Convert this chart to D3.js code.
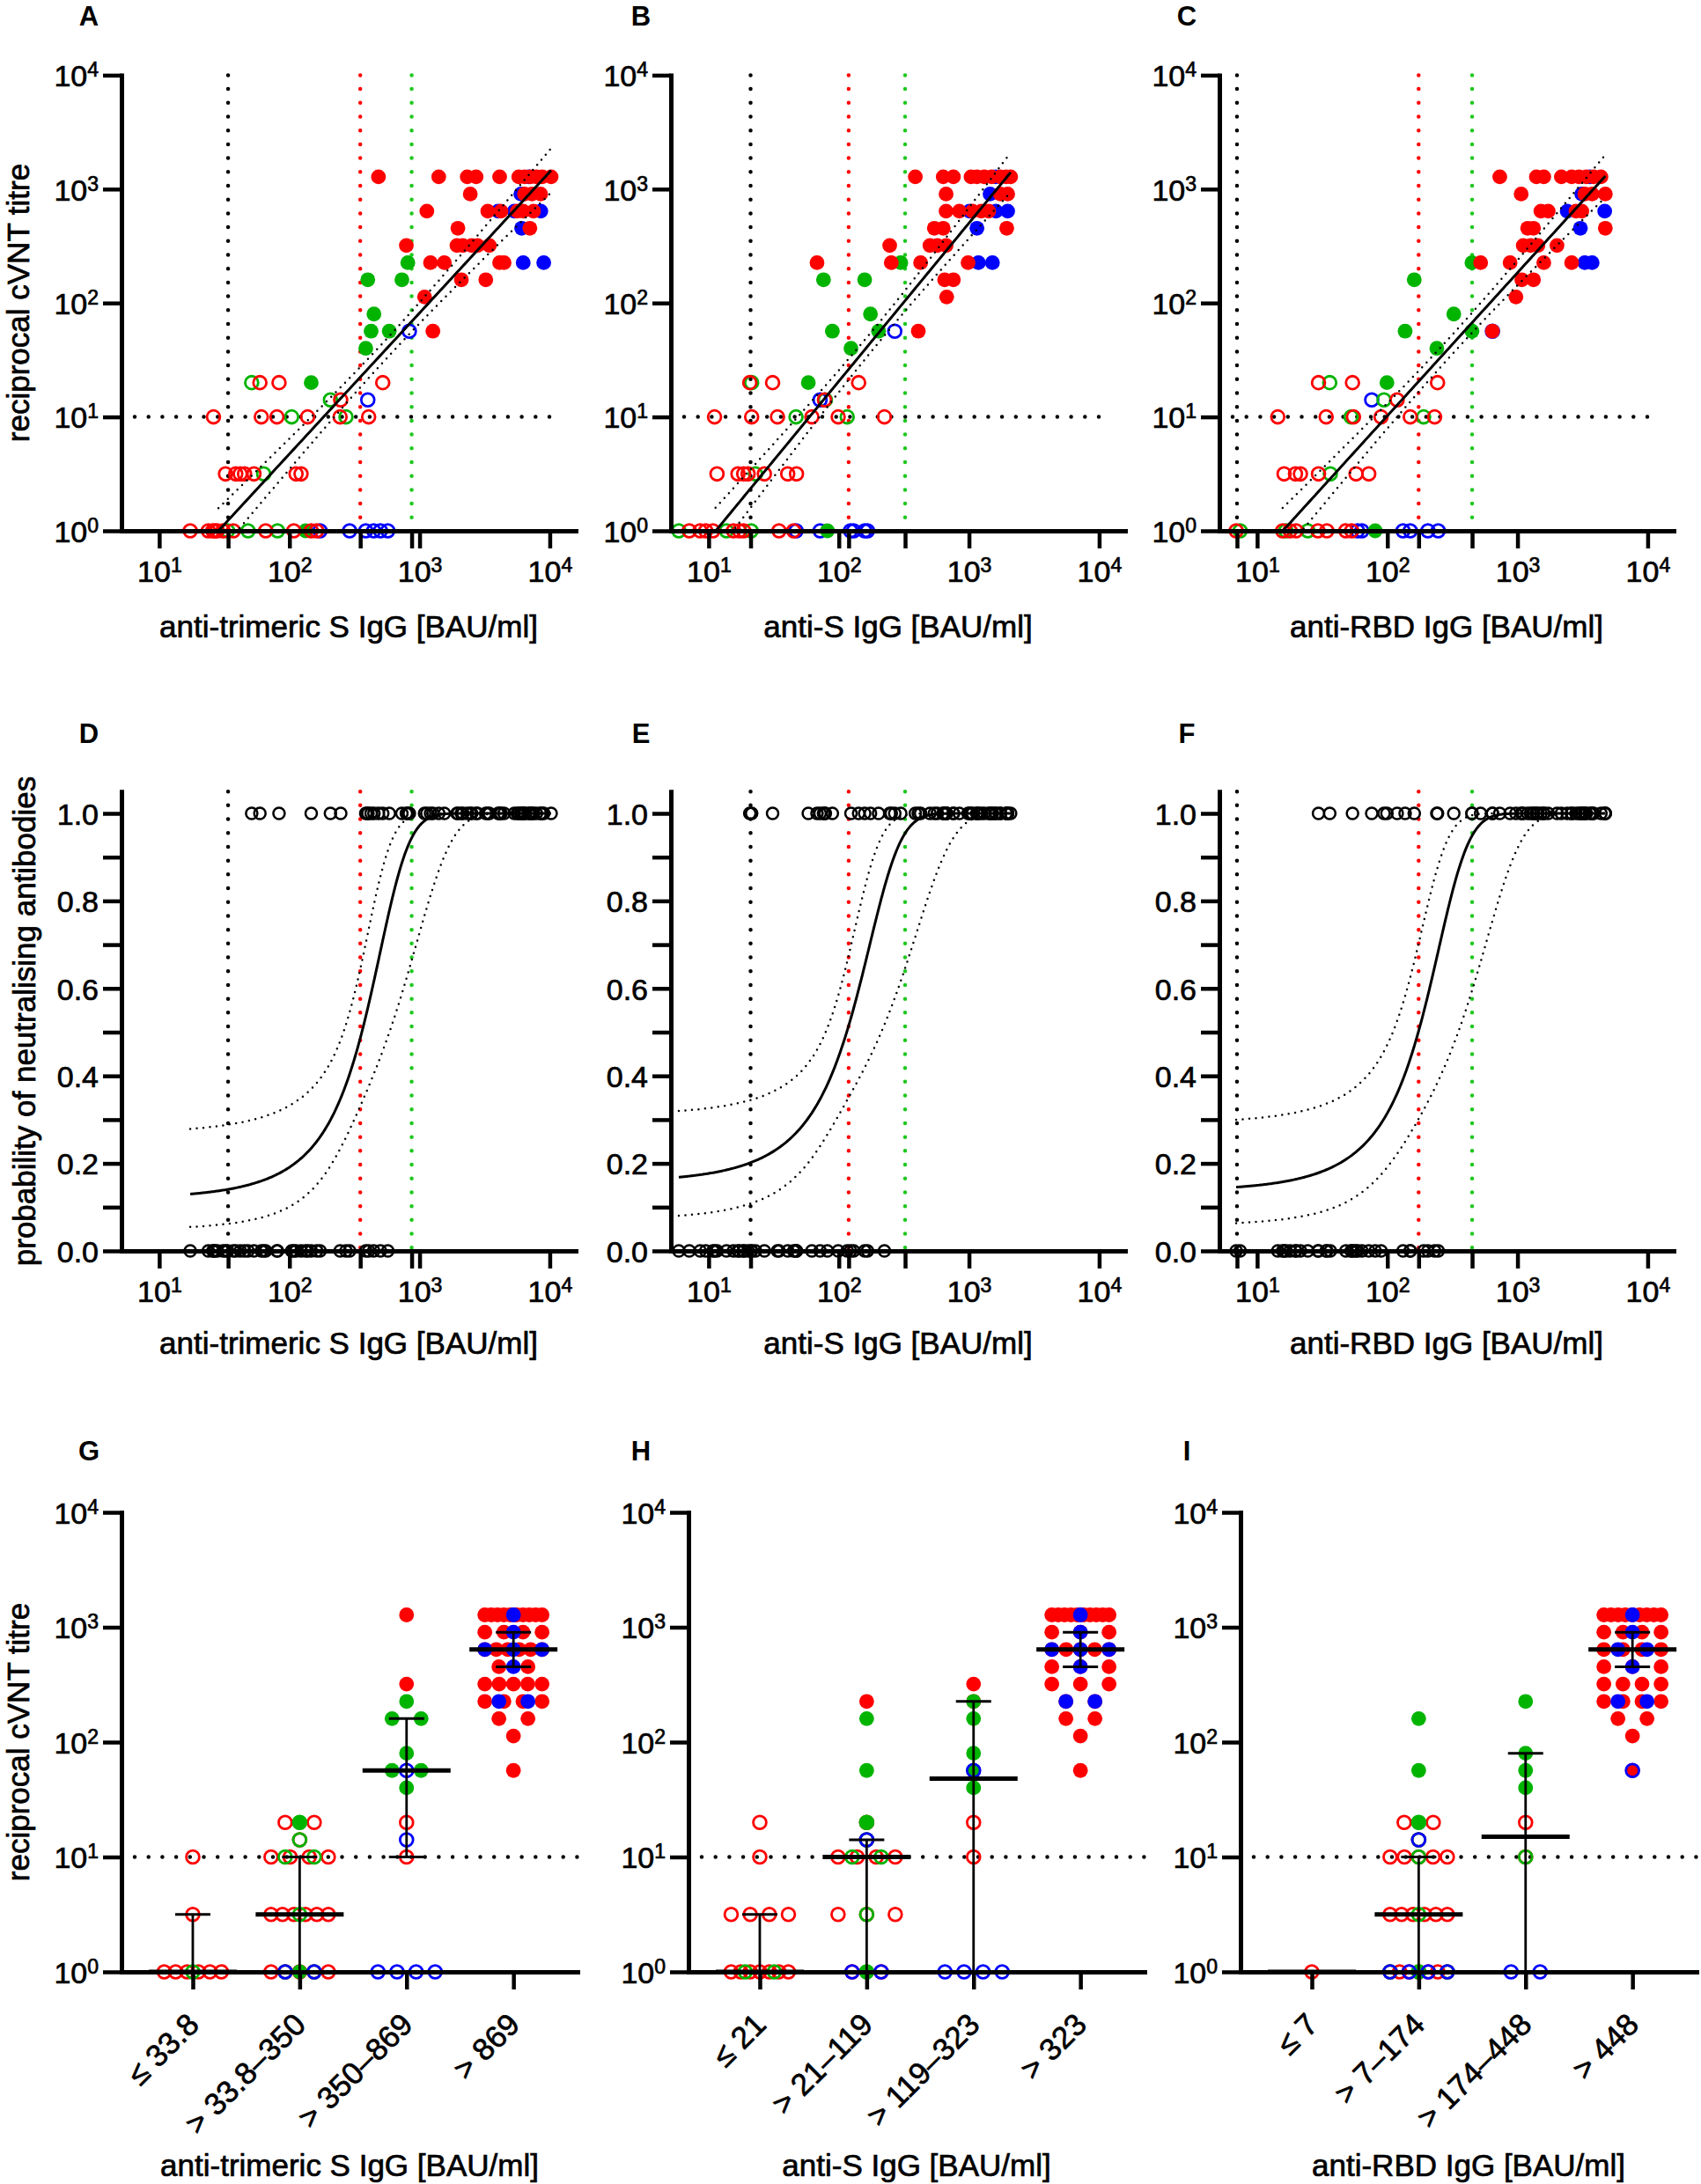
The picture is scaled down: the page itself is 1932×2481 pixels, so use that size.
<!DOCTYPE html>
<html><head><meta charset="utf-8">
<script src="https://cdn.jsdelivr.net/npm/d3@7"></script>
<style>body{margin:0;background:#fff;}</style>
</head><body><script>
// ---------------- DATA ----------------
// [IgG BAU/ml, reciprocal cVNT titre, group code] ; upper case = filled, lower case = open ; r/g/b = colour
const trimericS = [
[483,1280,'R'],[1403,1280,'R'],[2323,1280,'R'],[2717,1280,'R'],[4120,1280,'R'],[5780,1280,'R'],[6410,1280,'R'],[6900,1280,'B'],[7110,1280,'R'],[7890,1280,'R'],[8750,1280,'R'],[10240,1280,'R'],
[2450,905,'R'],[6000,905,'B'],[6400,905,'R'],[7300,905,'R'],[8500,905,'R'],
[1137,640,'R'],[3340,640,'R'],[4010,640,'B'],[4220,640,'R'],[5340,640,'B'],[5630,640,'R'],[6250,640,'R'],[7500,640,'R'],[8530,640,'B'],
[1968,453,'R'],[6080,453,'B'],[7030,453,'R'],
[791,320,'R'],[1936,320,'R'],[2148,320,'R'],[2512,320,'R'],[2787,320,'R'],[3433,320,'R'],
[812,226,'G'],[1213,226,'R'],[1549,226,'R'],[4120,226,'R'],[4455,226,'R'],[6250,226,'B'],[8990,226,'B'],
[400,160,'G'],[731,160,'G'],[2094,160,'R'],[3225,160,'R'],
[1092,113,'R'],
[446,80,'G'],
[424,56.6,'G'],[585,56.6,'G'],[834,56.6,'b'],[1265,56.6,'R'],
[386,40,'G'],
[51.3,20,'g'],[59.3,20,'r'],[83.2,20,'r'],[147,20,'G'],[521,20,'r'],
[206.6,14.1,'g'],[247.7,14.1,'r'],[400,14.1,'b'],
[26.1,10,'r'],[60.8,10,'r'],[80.2,10,'r'],[104,10,'g'],[138,10,'r'],[245,10,'r'],[272,10,'g'],[406,10,'r'],
[32.3,3.16,'r'],[38.7,3.16,'r'],[41.9,3.16,'r'],[45.2,3.16,'r'],[53.4,3.16,'r'],[63.4,3.16,'g'],[112.4,3.16,'r'],[122.8,3.16,'r'],
[17.3,1,'r'],[23.8,1,'r'],[25.8,1,'r'],[26.8,1,'r'],[27.9,1,'r'],[30.9,1,'r'],[33.5,1,'g'],[37.1,1,'r'],[48.1,1,'g'],[65.7,1,'r'],[81,1,'g'],[108,1,'r'],[133,1,'G'],[147,1,'r'],[162,1,'r'],[172,1,'b'],[290,1,'b'],[386,1,'b'],[444,1,'b'],[500,1,'b'],[570,1,'b']
];
const antiS = [
[387,1280,'R'],[634,1280,'R'],[759,1280,'R'],[1037,1280,'R'],[1151,1280,'R'],[1310,1280,'R'],[1490,1280,'R'],[1600,1280,'B'],[1741,1280,'R'],[1930,1280,'R'],[2088,1280,'R'],
[667,905,'R'],[1452,905,'B'],[1741,905,'R'],[1982,905,'R'],
[667,640,'R'],[843,640,'R'],[1009,640,'B'],[1063,640,'R'],[1243,640,'R'],[1416,640,'R'],[1611,640,'B'],[1982,640,'B'],
[542,453,'R'],[634,453,'R'],[1151,453,'B'],[1950,453,'R'],
[246,320,'R'],[501,320,'R'],[571,320,'R'],[667,320,'R'],
[68,226,'R'],[253,226,'R'],[299,226,'G'],[425,226,'R'],[984,226,'R'],[1181,226,'B'],[1514,226,'B'],
[76.3,160,'G'],[158,160,'G'],[650,160,'R'],[759,160,'R'],
[674,113,'R'],
[175,80,'G'],
[89.2,56.6,'G'],[202,56.6,'G'],[269,56.6,'b'],[408,56.6,'R'],
[124,40,'G'],
[20.7,20,'r'],[21.4,20,'g'],[31,20,'r'],[58.3,20,'G'],[142,20,'r'],
[71.8,14.1,'b'],[77.6,14.1,'r'],[78.8,14.1,'g'],
[11.1,10,'r'],[21.4,10,'r'],[33.8,10,'r'],[46.9,10,'g'],[62.1,10,'r'],[98.9,10,'r'],[116,10,'g'],[224,10,'r'],
[11.6,3.16,'r'],[16.8,3.16,'r'],[18.6,3.16,'r'],[20.1,3.16,'r'],[22.9,3.16,'g'],[26.8,3.16,'r'],[40.5,3.16,'r'],[47.3,3.16,'r'],
[5.9,1,'g'],[7.1,1,'r'],[8.6,1,'r'],[9.5,1,'r'],[10.8,1,'r'],[13.7,1,'g'],[15.5,1,'r'],[17.2,1,'r'],[18.6,1,'r'],[21.2,1,'g'],[34.7,1,'r'],[45,1,'r'],[47,1,'b'],[71.8,1,'b'],[81.7,1,'G'],[123,1,'b'],[130,1,'b'],[158,1,'b'],[166,1,'b']
];
const antiRBD = [
[731,1280,'R'],[1397,1280,'R'],[1592,1280,'R'],[2173,1280,'R'],[2606,1280,'R'],[2965,1280,'R'],[3376,1280,'R'],[3600,1280,'B'],[3843,1280,'R'],[4375,1280,'R'],
[1067,905,'R'],[3119,905,'B'],[3289,905,'R'],[3742,905,'R'],[4727,905,'R'],
[1512,640,'R'],[1721,640,'R'],[2411,640,'B'],[2814,640,'R'],[3119,640,'R'],[4677,640,'B'],
[1197,453,'R'],[1327,453,'R'],[3041,453,'B'],[4727,453,'R'],
[1107,320,'R'],[1260,320,'R'],[1435,320,'R'],[2011,320,'R'],
[447,226,'G'],[521,226,'R'],[877,226,'R'],[1592,226,'R'],[2606,226,'R'],[3289,226,'B'],[3742,226,'B'],
[161,160,'G'],[1079,160,'R'],[1327,160,'R'],
[973,113,'R'],
[324,80,'G'],
[137,56.6,'G'],[447,56.6,'G'],[642,56.6,'b'],[642,56.6,'R'],
[240,40,'G'],
[29.6,20,'r'],[36.1,20,'g'],[54,20,'r'],[99.3,20,'G'],[243,20,'r'],
[75.9,14.1,'b'],[94.3,14.1,'g'],[119,14.1,'r'],
[14.4,10,'r'],[33.9,10,'r'],[52.7,10,'g'],[55,10,'r'],[89.5,10,'r'],[150,10,'r'],[190,10,'g'],[231,10,'r'],
[16.1,3.16,'r'],[19.7,3.16,'r'],[21.5,3.16,'r'],[29.6,3.16,'r'],[36.5,3.16,'g'],[57.5,3.16,'r'],[72,3.16,'r'],
[6.9,1,'r'],[7.4,1,'g'],[15.7,1,'r'],[16.6,1,'g'],[17.9,1,'r'],[19.9,1,'r'],[24.5,1,'g'],[29.3,1,'r'],[34.3,1,'r'],[48,1,'r'],[53.2,1,'r'],[59,1,'b'],[63.8,1,'b'],[80.7,1,'G'],[132,1,'b'],[150,1,'b'],[205,1,'b'],[246,1,'b']
];

// cut-offs (BAU/ml) and the neutralisation cut-off titre
const cutsTrimericS = [33.8, 350, 869];
const cutsAntiS = [21, 119, 323];
const cutsAntiRBD = [7, 174, 448];
const neutCut = 10;

// log-log linear regression: [slope, intercept, fromX, toX]; CI half width: [centre log x, s0, k]
const regTrimericS = [1.238, -1.801, 28.5, 10240];
const regAntiS = [1.389, -1.465, 11.3, 2088];
const regAntiRBD = [1.257, -1.505, 15.7, 4727];
const ciTrimericS = [2.75, 0.085, 0.139];
const ciAntiS = [2.3, 0.085, 0.149];
const ciAntiRBD = [2.5, 0.085, 0.141];

// logistic regression: [a, b] on linear x; variance of logit: [c0, c1, c2]
const logitTrimericS = [-1.997, 0.005547];
const logitAntiS = [-1.683, 0.01463];
const logitAntiRBD = [-1.842, 0.010645];
const varTrimericS = [0.2594, -0.001443, 2.9e-6];
const varAntiS = [0.2049, -0.003583, 2.399e-5];
const varAntiRBD = [0.2374, -0.00251, 1.279e-5];

// category labels and [median, Q1, Q3]
const catsTrimericS = ['\u2264 33.8', '> 33.8\u2013350', '> 350\u2013869', '> 869'];
const catsAntiS = ['\u2264 21', '> 21\u2013119', '> 119\u2013323', '> 323'];
const catsAntiRBD = ['\u2264 7', '> 7\u2013174', '> 174\u2013448', '> 448'];
const statsTrimericS = [[1,1,3.16],[3.16,1,10],[56.6,10,160],[640,453,905]];
const statsAntiS = [[1,1,3.16],[10,1,14.1],[48,1,226],[640,453,905]];
const statsAntiRBD = [[1,1,1],[3.16,1,10],[15,1,80],[640,453,905]];

const yLogTicks = [1, 10, 100, 1000, 10000];
const xLogTicks = [10, 100, 1000, 10000];
const probTicks = [0,0.1,0.2,0.3,0.4,0.5,0.6,0.7,0.8,0.9,1.0];

// ---------------- DRAWING ----------------
const FONT = '"Liberation Sans", Arial, Helvetica, sans-serif';
const RED = '#ff0000', GREEN = '#00b400', BLUE = '#0000ff', LGREEN = '#1ec81e';
const CUT_COL = ['#000000', RED, LGREEN];
const colourOf = c => ({r:RED, R:RED, g:GREEN, G:GREEN, b:BLUE, B:BLUE})[c];
const isFilled = c => c === c.toUpperCase();
const drawRank = {b:0, B:0, g:1, G:1, r:2, R:2};
const TXT_STROKE = 0.7;

const svg = d3.select('body').append('svg').attr('width',1932).attr('height',2481).attr('font-family',FONT);
svg.append('rect').attr('width',1932).attr('height',2481).attr('fill','#fff');
const defs = svg.append('defs');
let clipN = 0;
function clip(x,y,w,h){ const id='clip'+(clipN++); defs.append('clipPath').attr('id',id).append('rect').attr('x',x).attr('y',y).attr('width',w).attr('height',h); return `url(#${id})`; }
function heavy(t){ return t.attr('fill','#000').attr('stroke','#000').attr('stroke-width',TXT_STROKE); }

const COLX = [138, 762, 1385];
const COLX3 = [138, 782, 1409];
const XW = 516, XW3 = 518;
const R1 = {axis:603, top:85.4};
const R2 = {axis:1421, unit:497};
const R3 = {axis:2240, top:1718};
const X_DOMAIN = [Math.pow(10,0.71), Math.pow(10,4.2)];

function supLabel(t, base, exp){
  t.append('tspan').text(base);
  t.append('tspan').attr('font-size',23).attr('dy',-11).text(exp);
}
function styleAxis(a){
  a.attr('font-family',FONT).attr('font-size',34);
  a.select('.domain').attr('stroke','#000').attr('stroke-width',5).attr('stroke-linecap','square');
  a.selectAll('.tick line').attr('stroke','#000').attr('stroke-width',4.5);
  a.selectAll('.tick text').remove();
}
function logYAxis(g, y, x0){
  const a = g.append('g').attr('transform',`translate(${x0},0)`)
    .call(d3.axisLeft(y).tickValues(yLogTicks).tickSize(21).tickSizeOuter(0).tickFormat(''));
  styleAxis(a);
  a.selectAll('.tick').append('text').attr('x',-26).attr('dy','0.36em').attr('text-anchor','end')
    .each(function(d){ const t = heavy(d3.select(this)); supLabel(t,'10',Math.round(Math.log10(d))); });
}
function logXAxis(g, x, axisY, cuts){
  const a = g.append('g').attr('transform',`translate(0,${axisY})`)
    .call(d3.axisBottom(x).tickValues(xLogTicks.concat(cuts)).tickSize(20).tickSizeOuter(0).tickFormat(''));
  styleAxis(a);
  a.selectAll('.tick').filter(d => xLogTicks.includes(d)).append('text').attr('y',58).attr('text-anchor','middle')
    .each(function(d){ const t = heavy(d3.select(this)); supLabel(t,'10',Math.round(Math.log10(d))); });
}
function dotted(g, x1, y1, x2, y2, col, w, gap){
  g.append('line').attr('x1',x1).attr('y1',y1).attr('x2',x2).attr('y2',y2)
   .attr('stroke',col).attr('stroke-width',w).attr('stroke-dasharray',`0 ${gap}`).attr('stroke-linecap','round');
}
function drawPoint(g, cx, cy, code){
  if (isFilled(code)) g.append('circle').attr('cx',cx).attr('cy',cy).attr('r',8.4).attr('fill',colourOf(code));
  else g.append('circle').attr('cx',cx).attr('cy',cy).attr('r',7.4).attr('fill','none').attr('stroke',colourOf(code)).attr('stroke-width',2.8);
}
function letter(txt, cx, by){
  svg.append('text').attr('x',cx).attr('y',by).attr('text-anchor','middle').attr('font-weight','bold').attr('font-size',31).text(txt);
}
function xTitle(txt, cx, by){
  heavy(svg.append('text').attr('x',cx).attr('y',by).attr('text-anchor','middle').attr('font-size',35).text(txt));
}
function yTitle(txt, bx, cy){
  heavy(svg.append('text').attr('transform',`translate(${bx},${cy}) rotate(-90)`).attr('text-anchor','middle').attr('font-size',35).text(txt));
}

// ----- Row 1: titre vs IgG -----
function scatterPanel(x0, data, cuts, reg, ci){
  const g = svg.append('g');
  const x = d3.scaleLog().domain(X_DOMAIN).range([x0, x0+XW]);
  const y = d3.scaleLog().domain([1,1e4]).range([R1.axis, R1.top]);
  cuts.forEach((c,i) => dotted(g, x(c), R1.top, x(c), R1.axis, CUT_COL[i], 4.5, 15.7));
  dotted(g, x0+15, y(neutCut), x0+500, y(neutCut), '#000', 4.5, 15.7);
  const pts = data.slice().sort((a,b) => drawRank[a[2]] - drawRank[b[2]]);
  pts.forEach(d => drawPoint(g, x(d[0]), y(d[1]), d[2]));
  const lc = g.append('g').attr('clip-path', clip(x0, R1.top-10, XW, R1.axis-R1.top+10));
  const l0 = Math.log10(reg[2]), l1 = Math.log10(reg[3]);
  const samp = d3.range(0, 121).map(i => l0 + (l1-l0)*i/120);
  const fit = lx => reg[1] + reg[0]*lx;
  const hw = lx => Math.sqrt(ci[1]*ci[1] + ci[2]*ci[2]*(lx-ci[0])*(lx-ci[0]));
  const line = d3.line().x(p => x(Math.pow(10,p[0]))).y(p => y(Math.pow(10,p[1])));
  lc.append('path').attr('d', line(samp.map(l => [l, fit(l)]))).attr('fill','none').attr('stroke','#000').attr('stroke-width',3);
  [1,-1].forEach(s => lc.append('path').attr('d', line(samp.map(l => [l, fit(l) + s*hw(l)])))
     .attr('fill','none').attr('stroke','#000').attr('stroke-width',2.5).attr('stroke-dasharray','0 7.5').attr('stroke-linecap','round'));
  logYAxis(g, y, x0);
  logXAxis(g, x, R1.axis, cuts);
}

// ----- Row 2: probability of neutralising antibodies -----
function logisticPanel(x0, data, cuts, lg, vr){
  const g = svg.append('g');
  const x = d3.scaleLog().domain(X_DOMAIN).range([x0, x0+XW]);
  const y = d3.scaleLinear().domain([0,1.05]).range([R2.axis, R2.axis - 1.05*R2.unit]);
  cuts.forEach((c,i) => dotted(g, x(c), y(1.05), x(c), R2.axis, CUT_COL[i], 4.5, 15.7));
  data.forEach(d => g.append('circle').attr('cx',x(d[0])).attr('cy',y(d[1] > neutCut ? 1 : 0)).attr('r',6.5)
     .attr('fill','none').attr('stroke','#000').attr('stroke-width',2.5));
  const ext = d3.extent(data, d => d[0]);
  const l0 = Math.log10(ext[0]), l1 = Math.log10(ext[1]);
  const xs = d3.range(0, 301).map(i => Math.pow(10, l0 + (l1-l0)*i/300));
  const sig = z => 1/(1+Math.exp(-z));
  const eta = v => lg[0] + lg[1]*v;
  const se = v => Math.sqrt(vr[0] + vr[1]*v + vr[2]*v*v);
  const line = d3.line().x(p => x(p[0])).y(p => y(p[1]));
  g.append('path').attr('d', line(xs.map(v => [v, sig(eta(v))]))).attr('fill','none').attr('stroke','#000').attr('stroke-width',3);
  [1,-1].forEach(s => g.append('path').attr('d', line(xs.map(v => [v, sig(eta(v) + s*1.96*se(v))])))
     .attr('fill','none').attr('stroke','#000').attr('stroke-width',2.5).attr('stroke-dasharray','0 7.5').attr('stroke-linecap','round'));
  const a = g.append('g').attr('transform',`translate(${x0},0)`)
    .call(d3.axisLeft(y).tickValues(probTicks).tickSize(21).tickSizeOuter(0).tickFormat(''));
  styleAxis(a);
  a.selectAll('.tick').filter(d => Math.round(d*10) % 2 === 0).append('text').attr('x',-26).attr('dy','0.36em')
    .attr('text-anchor','end').each(function(){ heavy(d3.select(this)); }).text(d => d.toFixed(1));
  logXAxis(g, x, R2.axis, cuts);
}

// ----- Row 3: titre by IgG category -----
function binPanel(x0, data, cuts, cats, stats){
  const g = svg.append('g');
  const x = d3.scaleLinear().domain([-0.667, 3.6]).range([x0, x0+XW3]);
  const y = d3.scaleLog().domain([1,1e4]).range([R3.axis, R3.top]);
  dotted(g, x0+15, y(neutCut), x0+XW3, y(neutCut), '#000', 4.5, 15.7);
  const binOf = v => v <= cuts[0] ? 0 : v <= cuts[1] ? 1 : v <= cuts[2] ? 2 : 3;
  const grouped = d3.group(data, d => binOf(d[0]), d => d[1], d => d[2]);
  const placed = [];
  for (const [bin, byT] of grouped) for (const [t, byC] of byT) for (const [c, arr] of byC) {
    const n = arr.length, s = n > 1 ? Math.min(33, 65/(n-1)) : 0;
    arr.slice().sort((a,b) => a[0]-b[0]).forEach((d,i) => placed.push({cx: x(bin) + (i-(n-1)/2)*s, cy: y(t), c}));
  }
  const order = {r:0, R:0, g:1, G:1, b:2, B:2};
  placed.sort((a,b) => order[a.c] - order[b.c]).forEach(p => drawPoint(g, p.cx, p.cy, p.c));
  stats.forEach((s,i) => {
    const cx = x(i);
    g.append('line').attr('x1',cx).attr('x2',cx).attr('y1',y(s[1])).attr('y2',y(s[2])).attr('stroke','#000').attr('stroke-width',2.8);
    [s[1], s[2]].forEach(v => g.append('line').attr('x1',cx-20).attr('x2',cx+20).attr('y1',y(v)).attr('y2',y(v)).attr('stroke','#000').attr('stroke-width',3));
    g.append('line').attr('x1',cx-50).attr('x2',cx+50).attr('y1',y(s[0])).attr('y2',y(s[0])).attr('stroke','#000').attr('stroke-width',5);
  });
  logYAxis(g, y, x0);
  const a = g.append('g').attr('transform',`translate(0,${R3.axis})`)
    .call(d3.axisBottom(x).tickValues([0,1,2,3]).tickSize(20).tickSizeOuter(0).tickFormat(''));
  styleAxis(a);
  cats.forEach((c,i) => heavy(g.append('text').attr('transform',`translate(${x(i)+9},${R3.axis+62}) rotate(-45)`)
     .attr('text-anchor','end').attr('font-size',35).text(c)));
}

scatterPanel(COLX[0], trimericS, cutsTrimericS, regTrimericS, ciTrimericS);
scatterPanel(COLX[1], antiS, cutsAntiS, regAntiS, ciAntiS);
scatterPanel(COLX[2], antiRBD, cutsAntiRBD, regAntiRBD, ciAntiRBD);
logisticPanel(COLX[0], trimericS, cutsTrimericS, logitTrimericS, varTrimericS);
logisticPanel(COLX[1], antiS, cutsAntiS, logitAntiS, varAntiS);
logisticPanel(COLX[2], antiRBD, cutsAntiRBD, logitAntiRBD, varAntiRBD);
binPanel(COLX3[0], trimericS, cutsTrimericS, catsTrimericS, statsTrimericS);
binPanel(COLX3[1], antiS, cutsAntiS, catsAntiS, statsAntiS);
binPanel(COLX3[2], antiRBD, cutsAntiRBD, catsAntiRBD, statsAntiRBD);

const titles = ['anti-trimeric S IgG [BAU/ml]', 'anti-S IgG [BAU/ml]', 'anti-RBD IgG [BAU/ml]'];
titles.forEach((t,i) => { xTitle(t, COLX[i]+258, 724); xTitle(t, COLX[i]+258, 1538); xTitle(t, COLX3[i]+259, 2472); });
yTitle('reciprocal cVNT titre', 33, 344);
yTitle('probability of neutralising antibodies', 40, 1160);
yTitle('reciprocal cVNT titre', 33, 1979);
[['A','B','C'],['D','E','F'],['G','H','I']].forEach((row,r) => row.forEach((L,i) => letter(L, [101,728,1348][i], [29,844,1659][r])));
</script></body></html>
